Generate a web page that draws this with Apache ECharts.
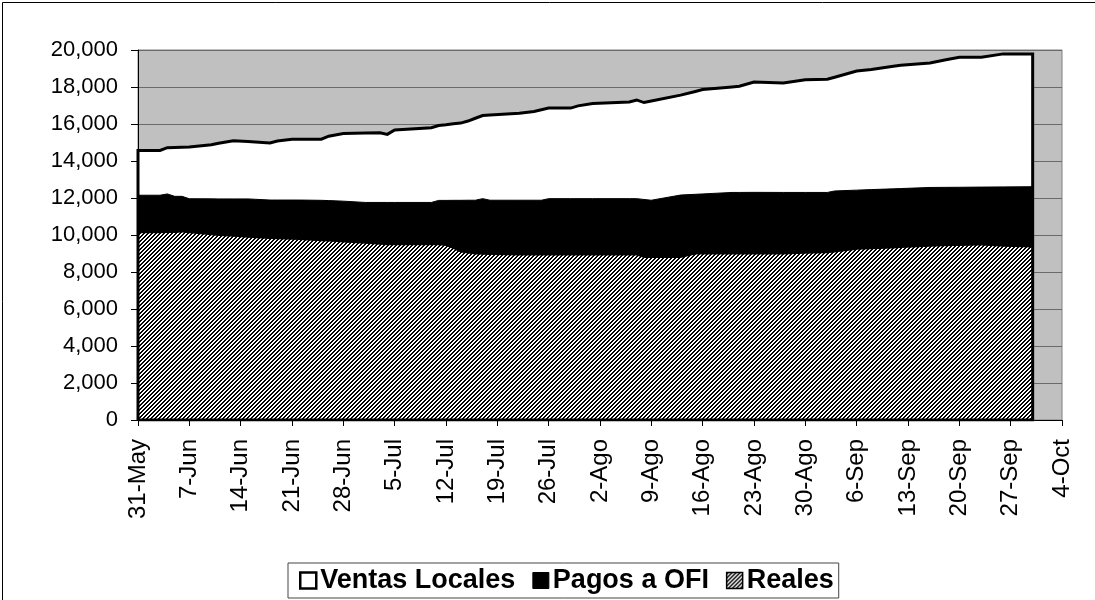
<!DOCTYPE html>
<html>
<head>
<meta charset="utf-8">
<script src="https://cdn.jsdelivr.net/npm/echarts@6/dist/echarts.min.js"></script>
<style>
  html, body { margin: 0; padding: 0; background: #fff; }
  #chart { width: 1095px; height: 600px; }
</style>
</head>
<body>
<div id="chart"></div>
<script>
// day index counted from 31-May (0) up to 4-Oct (126)
const days = [0, 3, 4, 5, 6, 7, 10, 11, 13, 15, 16, 18, 19, 21, 22, 25, 26, 28, 31, 33, 34, 35,
  40, 41, 42, 43, 44, 45, 46, 47, 48, 52, 54, 55, 56, 59, 60, 62, 67, 68, 69, 70, 74, 76, 77,
  81, 82, 84, 88, 91, 94, 95, 98, 100, 103, 104, 108, 110, 112, 115, 118, 122]

const reales = [10090, 10100, 10110, 10110, 10130, 10090, 9980, 9950, 9900, 9850, 9820, 9790, 9775,
  9745, 9730, 9665, 9645, 9600, 9525, 9475, 9450, 9450, 9450, 9450, 9400, 9250, 9050, 9000, 8940,
  8930, 8920, 8890, 8890, 8890, 8890, 8890, 8890, 8890, 8890, 8890, 8760, 8760, 8760, 8940, 8940,
  8945, 8945, 8950, 8950, 8980, 9010, 9060, 9200, 9230, 9275, 9295, 9370, 9395, 9410, 9430, 9370, 9330]

const pagosOFI = [2060, 2050, 2110, 1980, 1960, 1870, 1975, 2000, 2050, 2100, 2110, 2100, 2115,
  2145, 2160, 2210, 2215, 2230, 2235, 2285, 2310, 2310, 2310, 2420, 2470, 2625, 2825, 2880, 2940,
  3035, 2960, 2990, 2990, 2990, 3075, 3075, 3075, 3075, 3075, 3075, 3160, 3120, 3400, 3260, 3280,
  3355, 3355, 3355, 3350, 3320, 3290, 3320, 3225, 3225, 3220, 3215, 3200, 3180, 3170, 3160, 3230, 3280]

const ventasLocales = [2420, 2420, 2500, 2645, 2655, 2800, 2925, 3005, 3150, 3110, 3100, 3080, 3190,
  3290, 3290, 3305, 3480, 3650, 3750, 3770, 3680, 3920, 4040, 4050, 4090, 4135, 4175, 4280, 4430,
  4495, 4605, 4700, 4800, 4890, 4895, 4895, 5015, 5145, 5225, 5335, 5240, 5360, 5400, 5560, 5640,
  5705, 5740, 5960, 5920, 6090, 6120, 6150, 6435, 6495, 6625, 6670, 6730, 6880, 7030, 7020, 7190, 7180]

const tickLabels = ['31-May', '7-Jun', '14-Jun', '21-Jun', '28-Jun', '5-Jul', '12-Jul', '19-Jul',
  '26-Jul', '2-Ago', '9-Ago', '16-Ago', '23-Ago', '30-Ago', '6-Sep', '13-Sep', '20-Sep', '27-Sep', '4-Oct']

const FONT = 'Liberation Sans, Arial, sans-serif'

// diagonal hatching for "Reales"
const hatch = document.createElement('canvas')
hatch.width = 4
hatch.height = 4
const hctx = hatch.getContext('2d')
hctx.fillStyle = '#fff'
hctx.fillRect(0, 0, 4, 4)
hctx.fillStyle = '#000'
for (let x = 0; x < 4; x++) {
  for (let y = 0; y < 4; y++) {
    if ((x + y) % 4 < 2) hctx.fillRect(x, y, 1, 1)
  }
}
const hatchFill = { image: hatch, repeat: 'repeat' }

// stacking done by hand (value x axis), each band drawn from 0 to its cumulative top
const topReales = reales.slice()
const topPagos = reales.map((v, i) => v + pagosOFI[i])
const topVentas = topPagos.map((v, i) => v + ventasLocales[i])
const pair = (arr) => days.map((d, i) => [d, arr[i]])

// black outline around the whole block
const outline = [[days[0], 0]].concat(pair(topVentas))
outline.push([days[days.length - 1], 0])
outline.push([days[0], 0])

const chart = echarts.init(document.getElementById('chart'))

const option = {
  animation: false,
  backgroundColor: '#fff',
  textStyle: { fontFamily: FONT, color: '#000' },
  graphic: [{
    type: 'rect',
    left: 0,
    top: 0,
    shape: { width: 1094, height: 599 },
    style: { fill: 'none', stroke: '#000', lineWidth: 1 },
    silent: true
  }],
  grid: {
    left: 138,
    right: 33,
    top: 50,
    bottom: 180,
    show: true,
    backgroundColor: '#C0C0C0',
    borderColor: '#808080',
    borderWidth: 1
  },
  legend: {
    data: [
      { name: 'Ventas Locales', icon: 'rect', itemStyle: { color: '#fff', borderColor: '#000', borderWidth: 2.5 } },
      { name: 'Pagos a OFI', icon: 'rect', itemStyle: { color: '#000', borderColor: '#000', borderWidth: 1 } },
      { name: 'Reales', icon: 'rect', itemStyle: { color: hatchFill, borderColor: '#000', borderWidth: 1.5 } }
    ],
    left: 288,
    bottom: 2,
    itemWidth: 16,
    itemHeight: 16,
    itemGap: 17,
    padding: [4, 5, 4, 11],
    borderColor: '#444',
    borderWidth: 1,
    backgroundColor: '#fff',
    textStyle: { fontFamily: FONT, fontSize: 27, fontWeight: 'bold', color: '#000', padding: [0, 0, 0, -1] }
  },
  xAxis: {
    type: 'value',
    min: 0,
    max: 126,
    interval: 7,
    axisLine: { show: true, lineStyle: { color: '#000', width: 1 } },
    axisTick: { show: true, length: 6, lineStyle: { color: '#000' } },
    splitLine: { show: false },
    axisLabel: {
      rotate: 90,
      margin: 19,
      fontSize: 24,
      fontFamily: FONT,
      color: '#000',
      formatter: (v) => tickLabels[Math.round(v / 7)]
    }
  },
  yAxis: {
    type: 'value',
    min: 0,
    max: 20000,
    interval: 2000,
    axisLine: { show: true, lineStyle: { color: '#000', width: 1 } },
    axisTick: { show: true, length: 7, lineStyle: { color: '#000' } },
    splitLine: { show: true, lineStyle: { color: '#6a6a6a', width: 1 } },
    axisLabel: {
      margin: 20,
      fontSize: 22,
      fontFamily: FONT,
      color: '#000',
      formatter: (v) => v.toLocaleString('en-US')
    }
  },
  series: [
    {
      name: 'Ventas Locales',
      type: 'line',
      data: pair(topVentas),
      symbol: 'none',
      z: 2,
      lineStyle: { width: 0 },
      itemStyle: { color: '#fff' },
      areaStyle: { color: '#fff', opacity: 1, origin: 'start' }
    },
    {
      name: 'Pagos a OFI',
      type: 'line',
      data: pair(topPagos),
      symbol: 'none',
      z: 3,
      lineStyle: { width: 1, color: '#000' },
      itemStyle: { color: '#000' },
      areaStyle: { color: '#000', opacity: 1, origin: 'start' }
    },
    {
      name: 'Reales',
      type: 'line',
      data: pair(topReales),
      symbol: 'none',
      z: 4,
      lineStyle: { width: 0 },
      itemStyle: { color: '#000' },
      areaStyle: { color: hatchFill, opacity: 1, origin: 'start' }
    },
    {
      name: 'outline',
      type: 'line',
      data: outline,
      symbol: 'none',
      z: 5,
      lineStyle: { color: '#000', width: 3, join: 'miter' },
      silent: true
    }
  ]
}

chart.setOption(option)
</script>
</body>
</html>
